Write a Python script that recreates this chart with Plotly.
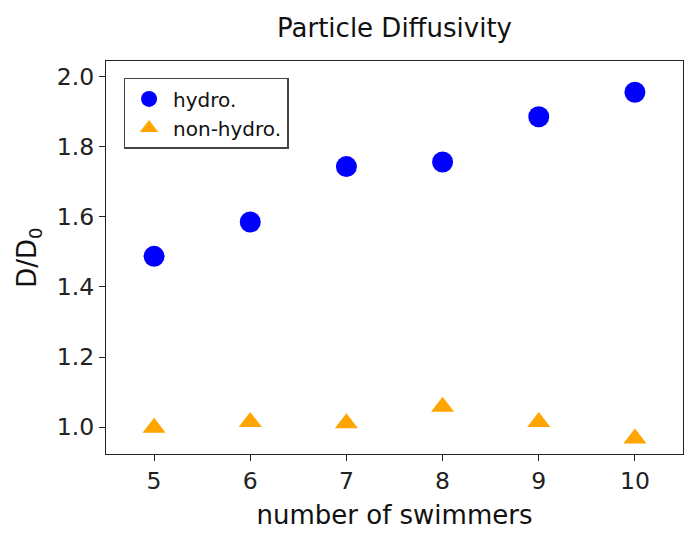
import plotly.graph_objects as go

swimmers = [5, 6, 7, 8, 9, 10]
hydro = [1.487, 1.585, 1.743, 1.756, 1.885, 1.955]
non_hydro = [0.998, 1.015, 1.011, 1.058, 1.015, 0.968]
y_ticks = [1.0, 1.2, 1.4, 1.6, 1.8, 2.0]

FONT = "DejaVu Sans"

fig = go.Figure()
fig.add_trace(go.Scatter(
    x=swimmers, y=hydro, mode="markers", name="hydro.",
    marker=dict(symbol="circle", size=21, color="#0000ff", line=dict(width=0)),
))
fig.add_trace(go.Scatter(
    x=swimmers, y=non_hydro, mode="markers", name="non-hydro.",
    marker=dict(symbol="triangle-up", size=20, color="#ffa500", line=dict(width=0)),
))

axis_common = dict(
    showline=True, linecolor="#222222", linewidth=1.3, mirror=True,
    ticks="outside", ticklen=6, tickwidth=1.2, tickcolor="#222222",
    showgrid=False, zeroline=False,
    tickfont=dict(family=FONT, size=23.5, color="#222222"),
)

fig.update_layout(
    width=700, height=538,
    paper_bgcolor="white", plot_bgcolor="white",
    margin=dict(l=106, r=17, t=61, b=84),
    title=dict(text="Particle Diffusivity", x=(106 + 683) / 2 / 700, xanchor="center",
               y=1 - 28 / 538, yanchor="middle",
               font=dict(family=FONT, size=26, color="#111111")),
    xaxis=dict(range=[4.5, 10.5], tickvals=swimmers, ticktext=[str(s) for s in swimmers],
               title=dict(text="number of swimmers", font=dict(family=FONT, size=26, color="#111111"), standoff=11),
               **axis_common),
    yaxis=dict(range=[0.9235, 2.044], tickvals=y_ticks, ticktext=[f"{v:.1f}" for v in y_ticks],
               title=dict(text="D/D<sub>0</sub>", font=dict(family=FONT, size=26, color="#111111"), standoff=12),
               **axis_common),
    legend=dict(x=0.0304, y=0.957, xanchor="left", yanchor="top",
                bordercolor="#444444", borderwidth=1.5, bgcolor="white",
                font=dict(family=FONT, size=20, color="#111111"),
                itemsizing="trace", itemwidth=38),
    showlegend=True,
)

fig.write_html("out.html")
